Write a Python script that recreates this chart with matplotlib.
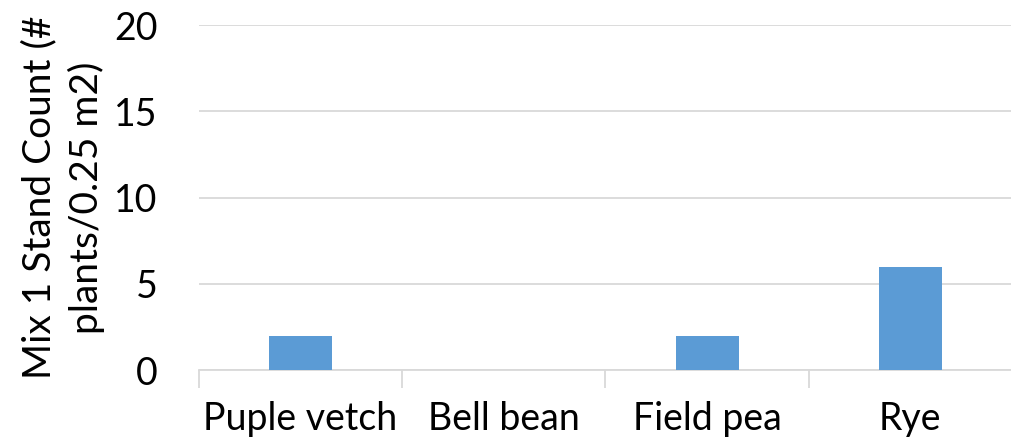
import numpy as np
import matplotlib.pyplot as plt

plt.rcParams['font.family'] = ['Lato', 'DejaVu Sans']

categories = ['Puple vetch', 'Bell bean', 'Field pea', 'Rye']
counts = [2, 0, 2, 6]
yticks = [0, 5, 10, 15, 20]

fig = plt.figure(figsize=(10.12, 4.48), dpi=100)
ax = fig.add_axes([0.1966, 0.174, 0.8034, 0.770])

x = np.arange(len(categories))
ax.bar(x, counts, width=0.31, color='#5B9BD5', zorder=3)

ax.set_xlim(-0.5, len(categories) - 0.5)
ax.set_ylim(0, 20)
ax.set_yticks(yticks)
ax.yaxis.grid(True, color='#D9D9D9', linewidth=1.3, zorder=0)

ax.set_xticks(x)
ax.set_xticklabels(categories)
ax.set_xticks(np.arange(len(categories) + 1) - 0.5, minor=True)
ax.tick_params(axis='x', which='major', length=0, pad=22, labelsize=27)
ax.tick_params(axis='x', which='minor', length=13, width=1.3, color='#D9D9D9')
ax.tick_params(axis='y', length=0, pad=30, labelsize=27)

for s in ['top', 'right', 'left']:
    ax.spines[s].set_visible(False)
ax.spines['bottom'].set_color('#D9D9D9')
ax.spines['bottom'].set_linewidth(1.3)

ax.set_ylabel('Mix 1 Stand Count (#\nplants/0.25 m2)', fontsize=28, labelpad=6,
              linespacing=1.35)

fig.savefig('out.png', dpi=100)
